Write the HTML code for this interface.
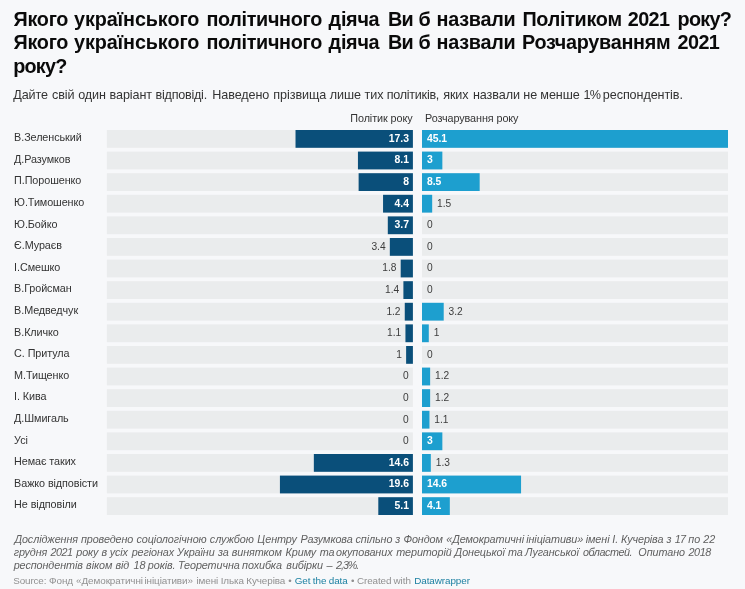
<!DOCTYPE html>
<html lang="uk"><head><meta charset="utf-8"><title>Політик року 2021</title>
<style>
html,body{margin:0;padding:0;background:#f7f8fa;}
body{width:745px;height:589px;overflow:hidden;font-family:"Liberation Sans",sans-serif;}
svg{display:block;font-family:"Liberation Sans",sans-serif;}
.t{font-weight:700;font-size:19.8px;letter-spacing:-0.27px;fill:#0a0a0a;}
.d{font-size:12.6px;letter-spacing:-0.09px;fill:#333;}
.h{font-size:10.8px;letter-spacing:-0.08px;fill:#333;}
.l{font-size:10.8px;letter-spacing:-0.08px;fill:#333;}
.v{font-size:10.2px;fill:#3c3c3c;}
.vi{font-size:10.4px;fill:#fff;font-weight:700;}
.n{font-size:10.8px;letter-spacing:-0.085px;fill:#606060;font-style:italic;}
.s{font-size:9.9px;letter-spacing:-0.086px;fill:#909090;}
.a{fill:#1d81a2;}
</style></head><body>
<svg width="745" height="589" viewBox="0 0 745 589">
<rect width="745" height="589" fill="#f7f8fa"/>
<text class="t" y="25.90"><tspan x="13.60" style="letter-spacing:-0.3px">Якого</tspan> <tspan x="74.00" style="letter-spacing:-0.1px">українського</tspan> <tspan x="206.40" style="letter-spacing:-0.32px">політичного</tspan> <tspan x="328.60">діяча</tspan> <tspan x="387.90" style="letter-spacing:-0.6px">Ви</tspan> <tspan x="418.40" style="letter-spacing:-0.8px">б</tspan> <tspan x="436.60">назвали</tspan> <tspan x="522.40">Політиком</tspan> <tspan x="627.80" style="letter-spacing:-0.6px">2021</tspan> <tspan x="677.60" style="letter-spacing:-0.75px">року?</tspan></text>
<text class="t" y="49.30"><tspan x="13.60" style="letter-spacing:-0.3px">Якого</tspan> <tspan x="74.00" style="letter-spacing:-0.1px">українського</tspan> <tspan x="206.40" style="letter-spacing:-0.32px">політичного</tspan> <tspan x="328.60">діяча</tspan> <tspan x="387.90" style="letter-spacing:-0.6px">Ви</tspan> <tspan x="418.40" style="letter-spacing:-0.8px">б</tspan> <tspan x="436.60">назвали</tspan> <tspan x="522.00">Розчаруванням</tspan> <tspan x="677.60" style="letter-spacing:-0.6px">2021</tspan></text>
<text class="t" y="72.70"><tspan x="13.20" style="letter-spacing:-0.75px">року?</tspan></text>
<text class="d" y="99.0"><tspan x="13.20">Дайте</tspan> <tspan x="52.06">свій</tspan> <tspan x="78.22">один</tspan> <tspan x="109.54">варіант</tspan> <tspan x="155.60" style="letter-spacing:-0.25px">відповіді.</tspan> <tspan x="212.30">Наведено</tspan> <tspan x="273.37">прізвища</tspan> <tspan x="329.74">лише</tspan> <tspan x="364.59">тих</tspan> <tspan x="386.63" style="letter-spacing:-0.25px">політиків,</tspan> <tspan x="443.23">яких</tspan> <tspan x="472.94">назвали</tspan> <tspan x="523.34">не</tspan> <tspan x="540.33">менше</tspan> <tspan x="583.42" style="letter-spacing:-0.7px">1%</tspan> <tspan x="602.85">респондентів.</tspan></text>
<text class="h" x="412.5" y="121.5" text-anchor="end">Політик року</text>
<text class="h" x="425" y="121.5">Розчарування року</text>
<rect x="106.90" y="130.00" width="306.00" height="17.80" fill="#eaeced"/><rect x="422.00" y="130.00" width="306.00" height="17.80" fill="#eaeced"/><rect x="295.52" y="130.00" width="117.38" height="17.80" fill="#0a4f7a"/><rect x="422.00" y="130.00" width="306.00" height="17.80" fill="#1d9fcf"/><text class="l" x="14.1" y="141.20">В.Зеленський</text><text class="vi" x="409.00" y="141.80" text-anchor="end">17.3</text><text class="vi" x="426.90" y="141.80">45.1</text>
<rect x="106.90" y="151.60" width="306.00" height="17.80" fill="#eaeced"/><rect x="422.00" y="151.60" width="306.00" height="17.80" fill="#eaeced"/><rect x="357.94" y="151.60" width="54.96" height="17.80" fill="#0a4f7a"/><rect x="422.00" y="151.60" width="20.35" height="17.80" fill="#1d9fcf"/><text class="l" x="14.1" y="162.80">Д.Разумков</text><text class="vi" x="409.00" y="163.40" text-anchor="end">8.1</text><text class="vi" x="426.90" y="163.40">3</text>
<rect x="106.90" y="173.20" width="306.00" height="17.80" fill="#eaeced"/><rect x="422.00" y="173.20" width="306.00" height="17.80" fill="#eaeced"/><rect x="358.62" y="173.20" width="54.28" height="17.80" fill="#0a4f7a"/><rect x="422.00" y="173.20" width="57.67" height="17.80" fill="#1d9fcf"/><text class="l" x="14.1" y="184.40">П.Порошенко</text><text class="vi" x="409.00" y="185.00" text-anchor="end">8</text><text class="vi" x="426.90" y="185.00">8.5</text>
<rect x="106.90" y="194.80" width="306.00" height="17.80" fill="#eaeced"/><rect x="422.00" y="194.80" width="306.00" height="17.80" fill="#eaeced"/><rect x="383.05" y="194.80" width="29.85" height="17.80" fill="#0a4f7a"/><rect x="422.00" y="194.80" width="10.18" height="17.80" fill="#1d9fcf"/><text class="l" x="14.1" y="206.00">Ю.Тимошенко</text><text class="vi" x="409.00" y="206.60" text-anchor="end">4.4</text><text class="v" x="437.08" y="206.60">1.5</text>
<rect x="106.90" y="216.40" width="306.00" height="17.80" fill="#eaeced"/><rect x="422.00" y="216.40" width="306.00" height="17.80" fill="#eaeced"/><rect x="387.80" y="216.40" width="25.10" height="17.80" fill="#0a4f7a"/><text class="l" x="14.1" y="227.60">Ю.Бойко</text><text class="vi" x="409.00" y="228.20" text-anchor="end">3.7</text><text class="v" x="426.90" y="228.20">0</text>
<rect x="106.90" y="238.00" width="306.00" height="17.80" fill="#eaeced"/><rect x="422.00" y="238.00" width="306.00" height="17.80" fill="#eaeced"/><rect x="389.83" y="238.00" width="23.07" height="17.80" fill="#0a4f7a"/><text class="l" x="14.1" y="249.20">Є.Мураєв</text><text class="v" x="385.63" y="249.80" text-anchor="end">3.4</text><text class="v" x="426.90" y="249.80">0</text>
<rect x="106.90" y="259.60" width="306.00" height="17.80" fill="#eaeced"/><rect x="422.00" y="259.60" width="306.00" height="17.80" fill="#eaeced"/><rect x="400.69" y="259.60" width="12.21" height="17.80" fill="#0a4f7a"/><text class="l" x="14.1" y="270.80">І.Смешко</text><text class="v" x="396.49" y="271.40" text-anchor="end">1.8</text><text class="v" x="426.90" y="271.40">0</text>
<rect x="106.90" y="281.20" width="306.00" height="17.80" fill="#eaeced"/><rect x="422.00" y="281.20" width="306.00" height="17.80" fill="#eaeced"/><rect x="403.40" y="281.20" width="9.50" height="17.80" fill="#0a4f7a"/><text class="l" x="14.1" y="292.40">В.Гройсман</text><text class="v" x="399.20" y="293.00" text-anchor="end">1.4</text><text class="v" x="426.90" y="293.00">0</text>
<rect x="106.90" y="302.80" width="306.00" height="17.80" fill="#eaeced"/><rect x="422.00" y="302.80" width="306.00" height="17.80" fill="#eaeced"/><rect x="404.76" y="302.80" width="8.14" height="17.80" fill="#0a4f7a"/><rect x="422.00" y="302.80" width="21.71" height="17.80" fill="#1d9fcf"/><text class="l" x="14.1" y="314.00">В.Медведчук</text><text class="v" x="400.56" y="314.60" text-anchor="end">1.2</text><text class="v" x="448.61" y="314.60">3.2</text>
<rect x="106.90" y="324.40" width="306.00" height="17.80" fill="#eaeced"/><rect x="422.00" y="324.40" width="306.00" height="17.80" fill="#eaeced"/><rect x="405.44" y="324.40" width="7.46" height="17.80" fill="#0a4f7a"/><rect x="422.00" y="324.40" width="6.78" height="17.80" fill="#1d9fcf"/><text class="l" x="14.1" y="335.60">В.Кличко</text><text class="v" x="401.24" y="336.20" text-anchor="end">1.1</text><text class="v" x="433.68" y="336.20">1</text>
<rect x="106.90" y="346.00" width="306.00" height="17.80" fill="#eaeced"/><rect x="422.00" y="346.00" width="306.00" height="17.80" fill="#eaeced"/><rect x="406.12" y="346.00" width="6.78" height="17.80" fill="#0a4f7a"/><text class="l" x="14.1" y="357.20">С. Притула</text><text class="v" x="401.92" y="357.80" text-anchor="end">1</text><text class="v" x="426.90" y="357.80">0</text>
<rect x="106.90" y="367.60" width="306.00" height="17.80" fill="#eaeced"/><rect x="422.00" y="367.60" width="306.00" height="17.80" fill="#eaeced"/><rect x="422.00" y="367.60" width="8.14" height="17.80" fill="#1d9fcf"/><text class="l" x="14.1" y="378.80">М.Тищенко</text><text class="v" x="408.70" y="379.40" text-anchor="end">0</text><text class="v" x="435.04" y="379.40">1.2</text>
<rect x="106.90" y="389.20" width="306.00" height="17.80" fill="#eaeced"/><rect x="422.00" y="389.20" width="306.00" height="17.80" fill="#eaeced"/><rect x="422.00" y="389.20" width="8.14" height="17.80" fill="#1d9fcf"/><text class="l" x="14.1" y="400.40">І. Кива</text><text class="v" x="408.70" y="401.00" text-anchor="end">0</text><text class="v" x="435.04" y="401.00">1.2</text>
<rect x="106.90" y="410.80" width="306.00" height="17.80" fill="#eaeced"/><rect x="422.00" y="410.80" width="306.00" height="17.80" fill="#eaeced"/><rect x="422.00" y="410.80" width="7.46" height="17.80" fill="#1d9fcf"/><text class="l" x="14.1" y="422.00">Д.Шмигаль</text><text class="v" x="408.70" y="422.60" text-anchor="end">0</text><text class="v" x="434.36" y="422.60">1.1</text>
<rect x="106.90" y="432.40" width="306.00" height="17.80" fill="#eaeced"/><rect x="422.00" y="432.40" width="306.00" height="17.80" fill="#eaeced"/><rect x="422.00" y="432.40" width="20.35" height="17.80" fill="#1d9fcf"/><text class="l" x="14.1" y="443.60">Усі</text><text class="v" x="408.70" y="444.20" text-anchor="end">0</text><text class="vi" x="426.90" y="444.20">3</text>
<rect x="106.90" y="454.00" width="306.00" height="17.80" fill="#eaeced"/><rect x="422.00" y="454.00" width="306.00" height="17.80" fill="#eaeced"/><rect x="313.84" y="454.00" width="99.06" height="17.80" fill="#0a4f7a"/><rect x="422.00" y="454.00" width="8.82" height="17.80" fill="#1d9fcf"/><text class="l" x="14.1" y="465.20">Немає таких</text><text class="vi" x="409.00" y="465.80" text-anchor="end">14.6</text><text class="v" x="435.72" y="465.80">1.3</text>
<rect x="106.90" y="475.60" width="306.00" height="17.80" fill="#eaeced"/><rect x="422.00" y="475.60" width="306.00" height="17.80" fill="#eaeced"/><rect x="279.92" y="475.60" width="132.98" height="17.80" fill="#0a4f7a"/><rect x="422.00" y="475.60" width="99.06" height="17.80" fill="#1d9fcf"/><text class="l" x="14.1" y="486.80">Важко відповісти</text><text class="vi" x="409.00" y="487.40" text-anchor="end">19.6</text><text class="vi" x="426.90" y="487.40">14.6</text>
<rect x="106.90" y="497.20" width="306.00" height="17.80" fill="#eaeced"/><rect x="422.00" y="497.20" width="306.00" height="17.80" fill="#eaeced"/><rect x="378.30" y="497.20" width="34.60" height="17.80" fill="#0a4f7a"/><rect x="422.00" y="497.20" width="27.82" height="17.80" fill="#1d9fcf"/><text class="l" x="14.1" y="508.40">Не відповіли</text><text class="vi" x="409.00" y="509.00" text-anchor="end">5.1</text><text class="vi" x="426.90" y="509.00">4.1</text>
<text class="n" y="543.2"><tspan x="14.40">Дослідження</tspan> <tspan x="80.92">проведено</tspan> <tspan x="136.51">соціологічною</tspan> <tspan x="209.84">службою</tspan> <tspan x="257.27">Центру</tspan> <tspan x="300.43">Разумкова</tspan> <tspan x="355.51">спільно</tspan> <tspan x="395.27">з</tspan> <tspan x="403.43">Фондом</tspan> <tspan x="446.23">«Демократичні</tspan> <tspan x="526.18">ініціативи»</tspan> <tspan x="585.72">імені</tspan> <tspan x="612.26">І.</tspan> <tspan x="620.99">Кучеріва</tspan> <tspan x="666.48">з</tspan> <tspan x="674.82" style="letter-spacing:-0.9px">17</tspan> <tspan x="688.37">по</tspan> <tspan x="703.37">22</tspan></text>
<text class="n" y="556.2"><tspan x="13.70">грудня</tspan> <tspan x="50.44" style="letter-spacing:-0.5px">2021</tspan> <tspan x="76.23">року</tspan> <tspan x="101.51">в</tspan> <tspan x="109.68">усіх</tspan> <tspan x="131.65">регіонах</tspan> <tspan x="176.96">України</tspan> <tspan x="218.02">за</tspan> <tspan x="231.67">винятком</tspan> <tspan x="285.54">Криму</tspan> <tspan x="319.79">та</tspan> <tspan x="336.12">окупованих</tspan> <tspan x="396.17">територій</tspan> <tspan x="454.62">Донецької</tspan> <tspan x="507.97">та</tspan> <tspan x="525.09">Луганської</tspan> <tspan x="582.88" style="letter-spacing:-0.45px">областей.</tspan> <tspan x="638.37">Опитано</tspan> <tspan x="688.45" style="letter-spacing:-0.4px">2018</tspan></text>
<text class="n" y="569.2"><tspan x="13.70">респондентів</tspan> <tspan x="86.10">віком</tspan> <tspan x="115.43">від</tspan> <tspan x="133.59">18</tspan> <tspan x="147.85">років.</tspan> <tspan x="177.90">Теоретична</tspan> <tspan x="242.12">похибка</tspan> <tspan x="286.33">вибірки</tspan> <tspan x="326.57">–</tspan> <tspan x="336.10" style="letter-spacing:-1.1px">2,3%.</tspan></text>
<text class="s" y="584.3"><tspan x="13.30" style="letter-spacing:-0.15px">Source:</tspan> <tspan x="49.08">Фонд</tspan> <tspan x="76.11">«Демократичні</tspan> <tspan x="144.52">ініціативи»</tspan> <tspan x="196.48">імені</tspan> <tspan x="220.64">Ілька</tspan> <tspan x="246.25">Кучеріва</tspan> <tspan x="288.36">•</tspan> <tspan x="294.71" class="a">Get</tspan> <tspan x="312.82" class="a">the</tspan> <tspan x="328.74" class="a">data</tspan> <tspan x="350.89">•</tspan> <tspan x="356.91">Created</tspan> <tspan x="393.59">with</tspan> <tspan x="414.28" class="a">Datawrapper</tspan></text>
</svg>
</body></html>
